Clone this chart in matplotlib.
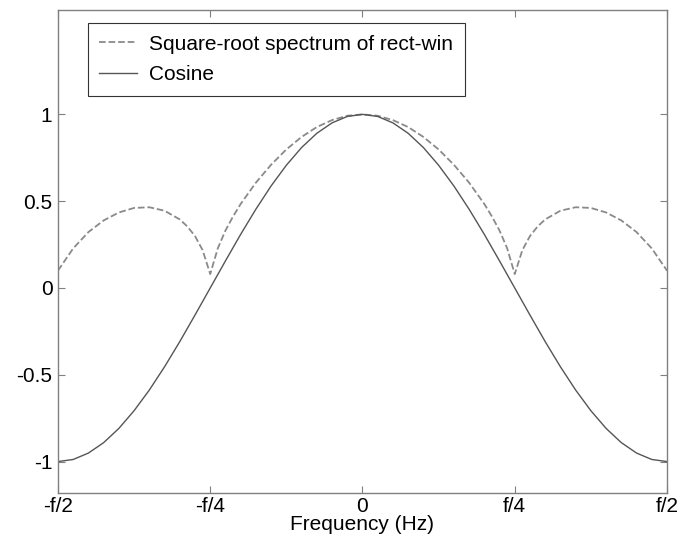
import matplotlib.pyplot as plt

plt.rcParams['font.family'] = ['Liberation Sans', 'DejaVu Sans']
plt.rcParams['axes.unicode_minus'] = False

# frequency grid (fraction of f)
freq_cos = [-0.5, -0.475, -0.45, -0.425, -0.4, -0.375, -0.35, -0.325, -0.3, -0.275,
            -0.25, -0.225, -0.2, -0.175, -0.15, -0.125, -0.1, -0.075, -0.05, -0.025,
            0.0, 0.025, 0.05, 0.075, 0.1, 0.125, 0.15, 0.175, 0.2, 0.225,
            0.25, 0.275, 0.3, 0.325, 0.35, 0.375, 0.4, 0.425, 0.45, 0.475, 0.5]
cosine = [-1.0, -0.988, -0.951, -0.891, -0.809, -0.707, -0.588, -0.454, -0.309, -0.156,
          0.0, 0.156, 0.309, 0.454, 0.588, 0.707, 0.809, 0.891, 0.951, 0.988,
          1.0, 0.988, 0.951, 0.891, 0.809, 0.707, 0.588, 0.454, 0.309, 0.156,
          0.0, -0.156, -0.309, -0.454, -0.588, -0.707, -0.809, -0.891, -0.951, -0.988, -1.0]

freq_rect = [-0.5, -0.475, -0.45, -0.425, -0.4, -0.375, -0.35, -0.325, -0.3, -0.2875,
             -0.275, -0.2625, -0.25, -0.2375, -0.225, -0.2125, -0.2, -0.175, -0.15, -0.125,
             -0.1, -0.075, -0.05, -0.025, 0.0, 0.025, 0.05, 0.075, 0.1, 0.125,
             0.15, 0.175, 0.2, 0.2125, 0.225, 0.2375, 0.25, 0.2625, 0.275, 0.2875,
             0.3, 0.325, 0.35, 0.375, 0.4, 0.425, 0.45, 0.475, 0.5]
sqrt_rect = [0.10, 0.228, 0.322, 0.389, 0.435, 0.461, 0.465, 0.445, 0.395, 0.354,
             0.299, 0.218, 0.08, 0.229, 0.331, 0.412, 0.484, 0.607, 0.710, 0.798,
             0.870, 0.927, 0.967, 0.992, 1.0, 0.992, 0.967, 0.927, 0.870, 0.798,
             0.710, 0.607, 0.484, 0.412, 0.331, 0.229, 0.08, 0.218, 0.299, 0.354,
             0.395, 0.445, 0.465, 0.461, 0.435, 0.389, 0.322, 0.228, 0.10]

xtick_vals = [-0.5, -0.25, 0, 0.25, 0.5]
xtick_labels = ["-f/2", "-f/4", "0", "f/4", "f/2"]
ytick_vals = [-1, -0.5, 0, 0.5, 1]
ytick_labels = ["-1", "-0.5", "0", "0.5", "1"]

fig = plt.figure(figsize=(6.82, 5.38), dpi=100)
ax = fig.add_axes([0.085, 0.084, 0.893, 0.897])

ax.plot(freq_rect, sqrt_rect, color="#8a8a8a", linestyle="--", linewidth=1.3,
        label="Square-root spectrum of rect-win")
ax.plot(freq_cos, cosine, color="#555555", linewidth=1.0, label="Cosine")

ax.set_xlim(-0.5, 0.5)
ax.set_ylim(-1.18, 1.6)
ax.set_xticks(xtick_vals)
ax.set_xticklabels(xtick_labels)
ax.set_yticks(ytick_vals)
ax.set_yticklabels(ytick_labels)
ax.tick_params(direction="in", length=5, width=0.8, color="#808080",
               top=True, right=True, labelsize=15)
ax.tick_params(axis="x", pad=3)
ax.tick_params(axis="y", pad=4)
for s in ax.spines.values():
    s.set_color("#808080")
    s.set_linewidth(1.0)
ax.set_xlabel("Frequency (Hz)", fontsize=15, labelpad=-1)

leg = ax.legend(loc="upper left", bbox_to_anchor=(0.049, 0.973), borderaxespad=0,
                fontsize=15, fancybox=False, framealpha=1, edgecolor="#333333",
                handlelength=1.8, handletextpad=0.6, borderpad=0.55, labelspacing=0.55)
leg.get_frame().set_linewidth(0.8)

plt.savefig("out.png")
